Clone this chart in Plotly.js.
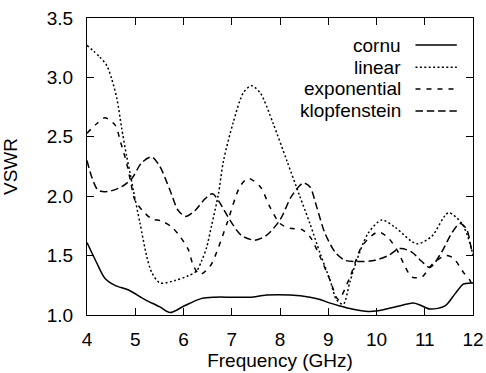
<!DOCTYPE html>
<html>
<head>
<meta charset="utf-8">
<script src="https://cdn.plot.ly/plotly-3.0.1.min.js"></script>
<style>
  html, body { margin: 0; padding: 0; background: #fff; }
  #chart { width: 486px; height: 373px; }
</style>
</head>
<body>
<div id="chart"></div>
<script>
// VSWR of four taper profiles across 4-12 GHz
const cornuX = [4.0, 4.2, 4.37, 4.58, 4.86, 5.2, 5.5, 5.72, 6.03, 6.38, 6.65, 7.0, 7.38, 7.72, 8.21, 8.62, 8.83, 9.04, 9.24, 9.49, 9.83, 10.03, 10.38, 10.76, 10.9, 11.11, 11.42, 11.63, 11.8, 11.97, 12.0];
const cornuY = [1.61, 1.44, 1.31, 1.25, 1.21, 1.13, 1.07, 1.02, 1.08, 1.14, 1.15, 1.15, 1.15, 1.168, 1.168, 1.15, 1.13, 1.10, 1.076, 1.05, 1.03, 1.036, 1.067, 1.10, 1.084, 1.05, 1.076, 1.18, 1.26, 1.27, 1.27];

const linearX = [4.0, 4.27, 4.41, 4.51, 4.62, 4.72, 4.82, 4.89, 4.96, 5.1, 5.24, 5.34, 5.51, 5.82, 6.1, 6.27, 6.38, 6.48, 6.58, 6.72, 6.83, 7.03, 7.24, 7.41, 7.59, 7.86, 8.14, 8.41, 8.62, 8.83, 9.04, 9.17, 9.31, 9.45, 9.59, 9.83, 10.11, 10.38, 10.83, 11.14, 11.49, 11.77, 11.94, 12.0];
const linearY = [3.27, 3.17, 3.10, 2.99, 2.82, 2.57, 2.34, 2.20, 2.05, 1.77, 1.49, 1.36, 1.27, 1.29, 1.33, 1.37, 1.46, 1.57, 1.75, 2.01, 2.30, 2.62, 2.87, 2.93, 2.87, 2.61, 2.30, 2.00, 1.77, 1.52, 1.29, 1.13, 1.09, 1.28, 1.46, 1.69, 1.80, 1.74, 1.60, 1.66, 1.86, 1.77, 1.60, 1.50];

const expX = [4.0, 4.2, 4.37, 4.58, 4.70, 4.82, 4.9, 4.99, 5.17, 5.34, 5.55, 5.76, 5.93, 6.1, 6.2, 6.34, 6.55, 6.65, 6.9, 7.17, 7.34, 7.59, 7.79, 8.0, 8.21, 8.45, 8.62, 8.83, 9.04, 9.21, 9.45, 9.66, 9.8, 10.04, 10.24, 10.42, 10.59, 10.73, 10.94, 11.14, 11.42, 11.59, 11.8, 11.94, 12.0];
const expY = [2.53, 2.61, 2.66, 2.60, 2.45, 2.28, 2.13, 1.97, 1.87, 1.81, 1.79, 1.74, 1.66, 1.55, 1.42, 1.34, 1.41, 1.49, 1.77, 2.08, 2.15, 2.08, 1.91, 1.77, 1.73, 1.72, 1.66, 1.49, 1.29, 1.13, 1.32, 1.55, 1.63, 1.70, 1.65, 1.55, 1.41, 1.32, 1.32, 1.42, 1.50, 1.48, 1.36, 1.29, 1.22];

const klopX = [4.0, 4.1, 4.23, 4.44, 4.72, 4.93, 5.13, 5.34, 5.51, 5.72, 5.89, 6.05, 6.24, 6.45, 6.6, 6.76, 6.96, 7.2, 7.48, 7.72, 8.0, 8.24, 8.48, 8.62, 8.76, 8.93, 9.15, 9.35, 9.69, 9.97, 10.24, 10.49, 10.73, 10.94, 11.11, 11.35, 11.56, 11.73, 11.87, 11.97, 12.0];
const klopY = [2.30, 2.16, 2.05, 2.04, 2.08, 2.15, 2.28, 2.33, 2.25, 2.05, 1.88, 1.83, 1.88, 1.98, 2.02, 1.94, 1.80, 1.67, 1.63, 1.67, 1.80, 2.00, 2.11, 2.08, 1.91, 1.69, 1.525, 1.46, 1.45, 1.46, 1.50, 1.56, 1.53, 1.45, 1.40, 1.53, 1.69, 1.77, 1.72, 1.55, 1.52];

const seriesNames = ['cornu', 'linear', 'exponential', 'klopfenstein'];
const seriesDash = ['solid', '2px,2.4px', '5px,6px', '7.5px,3.8px'];

const FONT = 'Liberation Sans, Arial, Helvetica, sans-serif';
const LW = 1.5;

const xs = [cornuX, linearX, expX, klopX];
const ys = [cornuY, linearY, expY, klopY];

const traces = xs.map((x, i) => ({
  x: x,
  y: ys[i],
  name: seriesNames[i],
  type: 'scatter',
  mode: 'lines',
  line: { color: '#000', width: LW, dash: seriesDash[i], shape: 'spline', smoothing: 0.8 },
  showlegend: false,
  hoverinfo: 'skip'
}));

// key in the upper right: label text on the left, line sample on the right
const keyRowsY = [0.909, 0.834, 0.761, 0.687];
const annotations = seriesNames.map((name, i) => ({
  xref: 'paper', yref: 'paper',
  x: 0.818, y: keyRowsY[i],
  xanchor: 'right', yanchor: 'middle',
  text: name, showarrow: false,
  font: { family: FONT, size: 19, color: '#000' }
}));
const shapes = seriesNames.map((name, i) => ({
  type: 'line', xref: 'paper', yref: 'paper',
  x0: 0.851, x1: 0.958, y0: keyRowsY[i], y1: keyRowsY[i],
  line: { color: '#000', width: LW, dash: seriesDash[i] }
}));

const axisCommon = {
  showgrid: false,
  zeroline: false,
  showline: true,
  linecolor: '#000',
  linewidth: 1,
  mirror: 'allticks',
  ticks: 'inside',
  ticklen: 7,
  tickwidth: 1,
  tickcolor: '#000',
  tickfont: { family: FONT, size: 19, color: '#000' }
};

const layout = {
  width: 486,
  height: 373,
  margin: { l: 87, r: 13, t: 18, b: 58 },
  paper_bgcolor: '#fff',
  plot_bgcolor: '#fff',
  xaxis: Object.assign({}, axisCommon, {
    range: [4, 12],
    tick0: 4, dtick: 1,
    ticklabelstandoff: 7,
    title: { text: 'Frequency (GHz)', font: { family: FONT, size: 19, color: '#000' }, standoff: 0 }
  }),
  yaxis: Object.assign({}, axisCommon, {
    range: [1, 3.5],
    tick0: 1, dtick: 0.5,
    tickformat: '.1f',
    ticklabelstandoff: 9,
    title: { text: 'VSWR', font: { family: FONT, size: 19, color: '#000' }, standoff: 26 }
  }),
  annotations: annotations,
  shapes: shapes,
  showlegend: false
};

Plotly.newPlot('chart', traces, layout, { staticPlot: true, displayModeBar: false });
</script>
</body>
</html>
